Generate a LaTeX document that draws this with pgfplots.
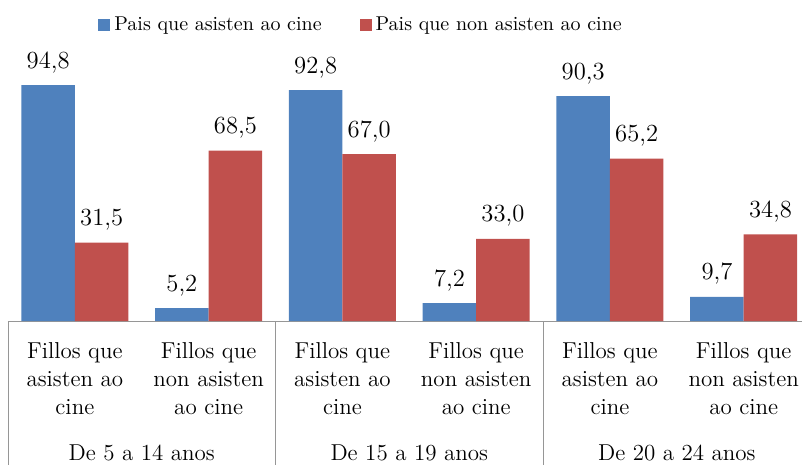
\documentclass[border=0pt]{standalone}
\usepackage{fontspec}
\usepackage{pgfplots}
\pgfplotsset{compat=1.18}
\definecolor{cblue}{HTML}{4F81BD}
\definecolor{cred}{HTML}{C0504D}
\definecolor{cgrid}{RGB}{150,150,150}
\begin{document}
\begin{tikzpicture}
\begin{axis}[
  name=ax,
  scale only axis,
  width=397pt, height=140.5pt,
  xmin=-0.5, xmax=5.436,
  ymin=0, ymax=112.9,
  ybar=0pt, bar width=0.4,
  axis x line=bottom, axis y line=none,
  axis line style={cgrid, -},
  xtick={0,1,2,3,4,5},
  xticklabels={{Fillos que\\asisten ao\\cine},{Fillos que\\non asisten\\ao cine},{Fillos que\\asisten ao\\cine},{Fillos que\\non asisten\\ao cine},{Fillos que\\asisten ao\\cine},{Fillos que\\non asisten\\ao cine}},
  xticklabel style={align=center, font=\fontsize{11.5}{14}\selectfont, yshift=-7pt},
  major tick length=0pt,
  ytick=\empty,
  clip=false,
  nodes near coords,
  every node near coord/.append style={font=\fontsize{12.3}{14}\selectfont, anchor=base, yshift=8.5pt},
  /pgf/number format/.cd, fixed, fixed zerofill, precision=1, use comma, assume math mode=true,
  /pgfplots/.cd,
  legend columns=2,
  legend style={at={(0.446,1.054)}, anchor=center, draw=none, fill=none,
    font=\fontsize{10}{12}\selectfont,
    /tikz/every even column/.append style={column sep=17pt}},
  legend image code/.code={\fill[#1] (0pt,-3pt) rectangle (6pt,3pt);},
]
\addplot[fill=cblue, draw=none] coordinates {(0,94.8) (1,5.2) (2,92.8) (3,7.2) (4,90.3) (5,9.7)};
\addplot[fill=cred, draw=none] coordinates {(0,31.5) (1,68.5) (2,67.0) (3,33.0) (4,65.2) (5,34.8)};
\legend{Pais que asisten ao cine, Pais que non asisten ao cine}
\draw[cgrid] (axis cs:-0.5,0) -- ([yshift=-72pt]axis cs:-0.5,0);
\draw[cgrid] (axis cs:1.5,0) -- ([yshift=-72pt]axis cs:1.5,0);
\draw[cgrid] (axis cs:3.5,0) -- ([yshift=-72pt]axis cs:3.5,0);
\node[font=\fontsize{11.5}{14}\selectfont] at ([yshift=-66pt]axis cs:0.5,0) {De 5 a 14 anos};
\node[font=\fontsize{11.5}{14}\selectfont] at ([yshift=-66pt]axis cs:2.5,0) {De 15 a 19 anos};
\node[font=\fontsize{11.5}{14}\selectfont] at ([yshift=-66pt]axis cs:4.5,0) {De 20 a 24 anos};
\end{axis}
\pgfresetboundingbox
\path ([xshift=-4pt,yshift=-72pt]ax.south west) rectangle ([yshift=20pt]ax.north east);
\end{tikzpicture}
\end{document}
